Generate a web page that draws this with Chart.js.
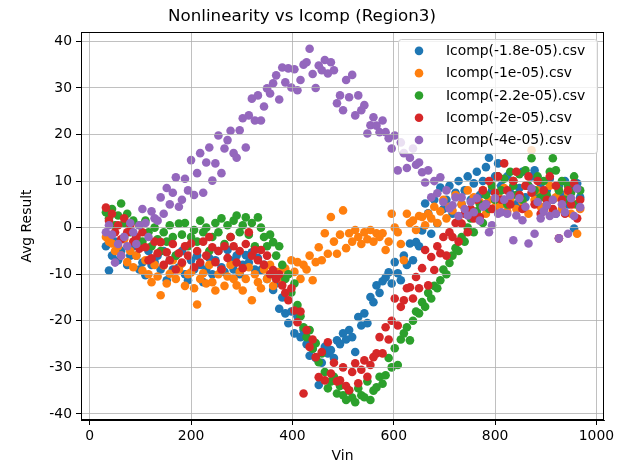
<!DOCTYPE html>
<html><head><meta charset="utf-8">
<script src="https://cdn.jsdelivr.net/npm/chart.js@4/dist/chart.umd.min.js"></script>
<style>html,body{margin:0;padding:0;background:#fff}#wrap{width:628px;height:465px}</style>
</head><body><div id="wrap"><canvas id="c" width="628" height="465"></canvas></div>
<script>
const chartTitle = 'Nonlinearity vs Icomp (Region3)';
const xLabel = 'Vin';
const yLabel = 'Avg Result';
const xTicks = [0, 200, 400, 600, 800, 1000];
const yTicks = [-40, -30, -20, -10, 0, 10, 20, 30, 40];

const vin = [
32,38,44,50,56,62,68,74,80,86,
92,98,104,110,116,122,128,134,140,146,
152,158,164,170,176,182,188,194,200,206,
212,218,224,230,236,242,248,254,260,266,
272,278,284,290,296,302,308,314,320,326,
332,338,344,350,356,362,368,374,380,386,
392,398,404,410,416,422,428,434,440,446,
452,458,464,470,476,482,488,494,500,506,
512,518,524,530,536,542,548,554,560,566,
572,578,584,590,596,602,608,614,620,626,
632,638,644,650,656,662,668,674,680,686,
692,698,704,710,716,722,728,734,740,746,
752,758,764,770,776,782,788,794,800,806,
812,818,824,830,836,842,848,854,860,866,
872,878,884,890,896,902,908,914,920,926,
932,938,944,950,956,962,968];

const seriesNames = ['Icomp(-1.8e-05).csv','Icomp(-1e-05).csv','Icomp(-2.2e-05).csv','Icomp(-2e-05).csv','Icomp(-4e-05).csv'];
const seriesColors = ['#1f77b4','#ff7f0e','#2ca02c','#d62728','#9467bd'];

const avgIcomp18 = [
-4,-9.2,-6,-3,-7,-5,-2,-8,-6,-4,
-6,-9,-7.5,-10.2,-5,-8,-7.4,-6,-9,-5,
-11.3,-7,-9,-6,-8.5,-5,-10,-11.3,-7,-9,
-6,-8,-11.7,-9,-6.5,-10,-7,-5,-8.5,-9.5,
-4.8,-7,-9,-6,-10,-8,-5.9,-7.5,-5.3,-9,
-6.5,-9.1,-8,-11,-10,-13.4,-12,-17.4,-15,-18.4,
-20.5,-18,-22.7,-19,-23.5,-22,-25,-27.5,-26,-28,
-33.8,-29,-25.6,-27,-26.3,-28,-24.2,-25,-22.7,-24,
-22,-23.5,-26.7,-19.2,-21,-18.4,-20.5,-14.9,-16,-12.4,
-14,-11.5,-10.7,-9.6,-12,-7.4,-9.8,-11.3,-6,-8,
-3.4,-7,-3.1,-4,-0.6,5.2,3.1,-1.3,6,0.9,
8.6,4,6,9,3,7.5,10,5,8,11,
6,9.5,12,7,10,13,15,8,11,13.8,
9,6,11,7.5,10,5,8.5,12,6.5,9,
11,12.3,7,9.5,4,8,10.5,6,3,9,
7,10,5,8,-0.2,9.5,6.5];

const avgIcomp10 = [
-2,-3,-3.4,-5,-4,-6,-2.5,-7.4,-5,-8.5,
-6,-4,-9.2,-7,-10,-11.7,-8,-10.5,-14.5,-8.1,
-12,-9.9,-7,-11,-9,-7.7,-12.5,-10,-9.6,-13,
-16.5,-11,-9.8,-12,-8,-11.7,-13.5,-10,-9.1,-12.5,
-10.5,-8,-11,-12.4,-9.5,-13.5,-11,-8.5,-15.6,-10,
-11.7,-13,-9,-11,-8,-12.5,-10,-9.5,-11.5,-8.8,
-10,-7,-9.5,-7.4,-11,-8,-9,-6,-11.3,-7.4,
-4.2,-7,-1.2,-5.6,2.3,-3,-5.6,-1.5,3.7,-4.4,
-1.2,-3,-0.5,-2,-3.5,-1,-2.5,-0.5,-3,-1.2,
-2,-1.2,-4.8,-3,3,0,-1,-3.5,-7,3,
1,1.5,-0.5,2.5,2.3,0.5,3,2,4.5,1,
3.5,6,2,4.5,3.7,7,1.5,5,3,8,
4,6.5,2.5,5.5,8,3,6,9,4.5,7,
5,8.5,3.5,6,10,4,7,5.5,9,3,
16.6,6,8,4.5,7.5,5,9,3.5,6.5,8,
4,6,7.5,3,5,-1.3,4];

const avgIcomp22 = [
3.3,2,4,0.5,2.6,5.2,1,3,-1,1.5,
-2,0.5,-3,1.5,-1,-4,0,-2.5,-5,-1,
-3,0.5,-2,-6,0.9,-1.5,1,-4,-2,-0.5,
-3,1.5,-1,0,-5,-2,1,-1,2,-3.5,
0.5,-2,1.5,2.6,-1,0.5,2.2,-1.5,1,-4,
2.2,0,-2,-4,-1.5,-3.1,-6,-4,-8,-11,
-10,-13.9,-12,-16.6,-19,-21.4,-23.5,-22,-26,-24.8,
-28.9,-27,-31,-34.5,-33,-32,-35.6,-34,-36,-37,
-35,-36.5,-37.5,-34.5,-36,-36.4,-33,-37,-35,-34.3,
-32,-33.5,-31.7,-28,-30,-25.9,-29.5,-24,-22.7,-21.4,
-24.2,-20,-18,-18.4,-16,-17,-14,-15.2,-12.5,-13,
-11.3,-9,-10,-7.6,-6,-4.4,-5,-2,-3,0,
2,-1,3.5,5,1,7,4,9,6,11,
8,10.5,5,12,9,7,11.5,6,12.3,9,
14.9,8,11,6.5,10,7,12,14.9,12.3,8,
10,6,9,7.5,11,5,8];

const avgIcomp20 = [
4.3,1.5,3,-1,0.5,-2.5,2,-1,0.5,-3,
-2,-4.5,-1,-4.2,-7,-6.6,-3,-5.5,-3.1,-8,
-5.3,-7,-3.5,-9,-5.5,-7.5,-4,-6,-3.4,-8.5,
-5,-7.5,-3,-6,-2,-4.2,-7.4,-5,-9,-4,
-6.5,-2,-4,-7.5,-5,-8.7,-3.5,-1,-6,-4.8,
-7,-4.8,-8,-6,-10,-9.1,-11,-10,-12.4,-14,
-15.6,-13,-17.8,-20.3,-18,-35.6,-22,-25.6,-24,-27.8,
-32.1,-26.7,-32.8,-24.6,-31.3,-29,-33,-32.8,-30,-34,
-34.9,-31,-29.1,-33.4,-30.5,-28.5,-32,-29.5,-27.8,-27,
-23.5,-27,-21.4,-24,-20,-15.2,-21,-17,-15.6,-13,
-12.8,-15.2,-10.6,-13,-8.7,-4.8,-12.4,-6.3,-9.1,-4,
-5.5,-2,-6,-1,-2,1,-3,0.9,3,-1,
4,2,6,2.3,8,5,10,4,7.5,11,
6,13.8,8,5,10,12,7,4,9,11,
7.5,5,10,3,8,6,11,4,9,-2.3,
6,3,8,5,9.5,2,6];

const avgIcomp40 = [
-1,0.5,-1.5,-7.5,-3.5,-6,-2,-4,1,-1,
-3.5,0.5,4,1,-2,3.5,2,1.5,6.5,3,
8.5,5,7.5,10.8,4.5,6,10.5,8,14.5,7,
11.7,16,7.5,14,17.2,10.1,13.8,19.8,11.7,17,
18.8,20.8,16,15,20.9,23.5,17.2,24.1,27.7,23,
28.4,23,26,29.9,28.8,31,32.7,27.5,34.4,31.2,
34.2,30.1,34,29.5,31.7,35,35.5,38.4,33,30,
34.8,33.8,36,33.1,35.5,33.8,26.7,28.4,25.2,31.7,
28,32.8,24.1,28.4,25.2,26.3,20.2,22,23.7,21.9,
20.5,23,20.5,19.2,17,19.8,12.3,18.3,16,12.8,
15,17,13.5,14,11.9,9.7,12.3,6.5,10,7.4,
10.8,5.5,8,4.1,4.8,6.5,2.5,6.5,4,2.6,
5.5,3.3,6.3,1.5,4.5,5,-1,0.5,6.3,3,
3.3,6,3,6.9,-2.7,2.6,6.3,1.6,4.5,-3.4,
8.4,-1.3,5.5,2,3.5,4.8,2.5,6,3,-2.3,
5,3.3,-1.3,6.3,2.5,8.4,4.4];

const seriesValues = [avgIcomp18, avgIcomp10, avgIcomp22, avgIcomp20, avgIcomp40];

const FONT = '"DejaVu Sans", "Liberation Sans", sans-serif';

const datasets = seriesValues.map((vals, k) => ({
  label: seriesNames[k],
  data: vin.map((x, i) => ({x: x, y: vals[i]})),
  backgroundColor: seriesColors[k],
  borderColor: seriesColors[k],
  borderWidth: 0,
  pointRadius: 4.3,
  pointHoverRadius: 4.3,
  order: seriesValues.length - 1 - k
}));

const framePlugin = {
  id: 'frame',
  afterDraw(chart) {
    const {ctx, chartArea: a} = chart;
    ctx.save();
    ctx.strokeStyle = '#000';
    ctx.lineWidth = 1;
    ctx.strokeRect(Math.round(a.left) + 0.5, Math.round(a.top) + 0.5,
                   Math.round(a.right - a.left) - 1, Math.round(a.bottom - a.top) - 1);
    const lw = 199, lh = 114;
    const lx = a.right - 7 - lw, ly = a.top + 7;
    ctx.beginPath();
    if (ctx.roundRect) ctx.roundRect(lx + 0.5, ly + 0.5, lw, lh, 3); else ctx.rect(lx + 0.5, ly + 0.5, lw, lh);
    ctx.fillStyle = 'rgba(255,255,255,0.8)';
    ctx.fill();
    ctx.strokeStyle = '#cccccc';
    ctx.lineWidth = 1;
    ctx.stroke();
    ctx.font = '13.9px ' + FONT;
    ctx.textBaseline = 'middle';
    ctx.textAlign = 'left';
    seriesNames.forEach((name, k) => {
      const cy = ly + 11.8 + k * 22.3;
      ctx.beginPath();
      ctx.arc(lx + 21, cy, 4.3, 0, Math.PI * 2);
      ctx.fillStyle = seriesColors[k];
      ctx.fill();
      ctx.fillStyle = '#000';
      ctx.fillText(name, lx + 48, cy + 0.5);
    });
    ctx.restore();
  }
};

const gridOpts = {
  color: '#b0b0b0', lineWidth: 0.8, z: 1,
  drawTicks: true, tickLength: 5, tickColor: '#000', tickWidth: 1
};

new Chart(document.getElementById('c'), {
  type: 'scatter',
  data: {datasets},
  options: {
    responsive: false,
    animation: false,
    events: [],
    layout: {padding: {left: 0, right: 24, top: 0, bottom: 0}},
    plugins: {
      legend: {display: false},
      tooltip: {enabled: false},
      title: {
        display: true, text: chartTitle, color: '#000',
        font: {family: FONT, size: 16.7, weight: 'normal', lineHeight: 1.2},
        padding: {top: 7, bottom: 5}
      }
    },
    scales: {
      x: {
        type: 'linear', min: -17.2, max: 1015,
        grid: gridOpts,
        border: {display: true, color: '#000', width: 1, z: 1},
        ticks: {color: '#000', font: {family: FONT, size: 13.9}, padding: 3, maxRotation: 0, autoSkip: false,
                callback: v => String(v)},
        title: {display: true, text: xLabel, color: '#000', font: {family: FONT, size: 13.9, lineHeight: 1.2}, padding: {top: 0, bottom: 0}},
        afterBuildTicks(s) { s.ticks = xTicks.map(v => ({value: v})); },
        afterFit(s) { s.height = 45; }
      },
      y: {
        type: 'linear', min: -41.3, max: 42.0,
        grid: gridOpts,
        border: {display: true, color: '#000', width: 1, z: 1},
        ticks: {color: '#000', font: {family: FONT, size: 13.9}, padding: 4, autoSkip: false,
                callback: v => String(v)},
        title: {display: true, text: yLabel, color: '#000', font: {family: FONT, size: 13.9, lineHeight: 1.2}, padding: {top: 18.7, bottom: 0}},
        afterBuildTicks(s) { s.ticks = yTicks.map(v => ({value: v})); },
        afterFit(s) { s.width = 81; }
      }
    }
  },
  plugins: [framePlugin]
});
</script>
</body></html>
